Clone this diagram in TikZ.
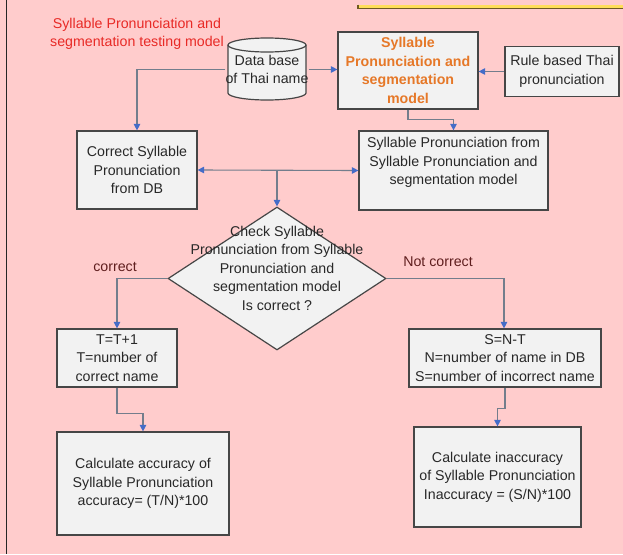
\documentclass[tikz,border=0pt]{standalone}
\usepackage{fontspec}
\setmainfont{Liberation Sans}
\usetikzlibrary{arrows.meta,shapes.geometric}
\definecolor{bgpink}{RGB}{255,204,204}
\definecolor{boxfill}{RGB}{242,242,242}
\definecolor{boxline}{RGB}{70,70,70}
\definecolor{txtc}{RGB}{40,40,40}
\definecolor{titlered}{RGB}{232,42,38}
\definecolor{modelorange}{RGB}{230,120,40}
\definecolor{lblred}{RGB}{95,30,30}
\definecolor{connc}{RGB}{115,125,140}
\definecolor{arrowblue}{RGB}{68,108,200}
\definecolor{baryellow}{RGB}{255,222,90}
\definecolor{bardark}{RGB}{110,90,35}
\begin{document}
\begin{tikzpicture}[x=1pt,y=-1pt,
  every node/.style={font=\fontsize{14.2}{18.5}\selectfont, text=txtc, align=center, inner sep=0pt},
  box/.style={draw=boxline, fill=boxfill, line width=1.2pt},
  conn/.style={draw=connc, line width=1.1pt, -{Triangle[length=6.5pt,width=6.5pt,color=arrowblue]}},
  conn2/.style={draw=connc, line width=1.1pt, {Triangle[length=6.5pt,width=6.5pt,color=arrowblue]}-{Triangle[length=6.5pt,width=6.5pt,color=arrowblue]}},
  lbl/.style={text=lblred}]
\useasboundingbox (0,0) rectangle (623,554);
\clip (0,0) rectangle (623,554);
\fill[bgpink] (0,0) rectangle (623,554);
% left border
\draw[line width=1.5pt, draw=black!85] (6.5,0) -- (6.5,554);
% yellow bar at the top
\fill[baryellow] (358,4.5) rectangle (630,8);
\draw[bardark, line width=1.6pt] (357.8,4.5) -- (357.8,8.6) -- (630,8.6);

% title
\node[text=titlered] (title) at (137,34) {Syllable Pronunciation and\\segmentation testing model};

% database cylinder
\draw[box] (228,45) -- (228,93) arc[start angle=180,end angle=360,x radius=39pt,y radius=7pt]
  -- (306,45) arc[start angle=0,end angle=180,x radius=39pt,y radius=7pt] -- cycle;
\draw[draw=boxline, line width=1.2pt] (228,45) arc[start angle=180,end angle=360,x radius=39pt,y radius=7pt];
\node[minimum width=78pt, minimum height=62pt] (db) at (267,69.5) {Data base\\of Thai name};

% model
\node[box, minimum width=140pt, minimum height=77pt, text=modelorange,
  font=\fontsize{14.2}{18.5}\selectfont\bfseries] (model) at (408,70.5)
  {Syllable\\Pronunciation and\\segmentation\\model};
\node[box, minimum width=114pt, minimum height=50pt] (rule) at (562,71.5) {Rule based Thai\\pronunciation};

% second row
\node[box, minimum width=120pt, minimum height=78pt] (cor) at (137,170) {Correct Syllable\\Pronunciation\\from DB};
\node[box, minimum width=189pt, minimum height=79pt] (spm) at (453.5,170.5)
  {Syllable Pronunciation from\\Syllable Pronunciation and\\segmentation model\\\mbox{}};

% decision
\node[diamond, draw=boxline, fill=boxfill, line width=1.2pt, minimum width=218pt, minimum height=143pt] (chk) at (277,278.5) {};
\node (chktxt) at (277,268) {Check Syllable\\Pronunciation from Syllable\\Pronunciation and\\segmentation model\\Is correct ?};
\node[lbl] (lc) at (115,267) {correct};
\node[lbl] (lnc) at (438,262) {Not correct};

% lower boxes
\node[box, minimum width=120pt, minimum height=58pt] (tbox) at (117,358) {T=T+1\\T=number of\\correct name};
\node[box, minimum width=192pt, minimum height=58pt] (sbox) at (505,358) {S=N-T\\N=number of name in DB\\S=number of incorrect name};
\node[box, minimum width=172pt, minimum height=103pt] (acc) at (143,483.5) {Calculate accuracy of\\Syllable Pronunciation\\accuracy= (T/N)*100};
\node[box, minimum width=167pt, minimum height=100pt] (inacc) at (497.5,477) {Calculate inaccuracy\\of Syllable Pronunciation\\Inaccuracy = (S/N)*100};

% connectors
\coordinate (j) at (277,170.5);
\draw[conn] (db.west) -| (cor.north);
\draw[conn] (db.east) -- (db.east -| model.west);
\draw[conn] (rule.west) -- (rule.west -| model.east);
\draw[conn] (model.south) -- ++(0,10) -| (spm.north);
\draw[conn2] (cor.east) -- (spm.west);
\draw[conn] (j) -- (chk.north);
\draw[conn] (chk.west) -| (tbox.north);
\draw[conn] (chk.east) -| ([xshift=-1pt]sbox.north);
\draw[conn] (tbox.south) -- ++(0,26) -| (acc.north);
\draw[conn] (sbox.south) -- ++(0,21) -| (inacc.north);
\end{tikzpicture}
\end{document}
